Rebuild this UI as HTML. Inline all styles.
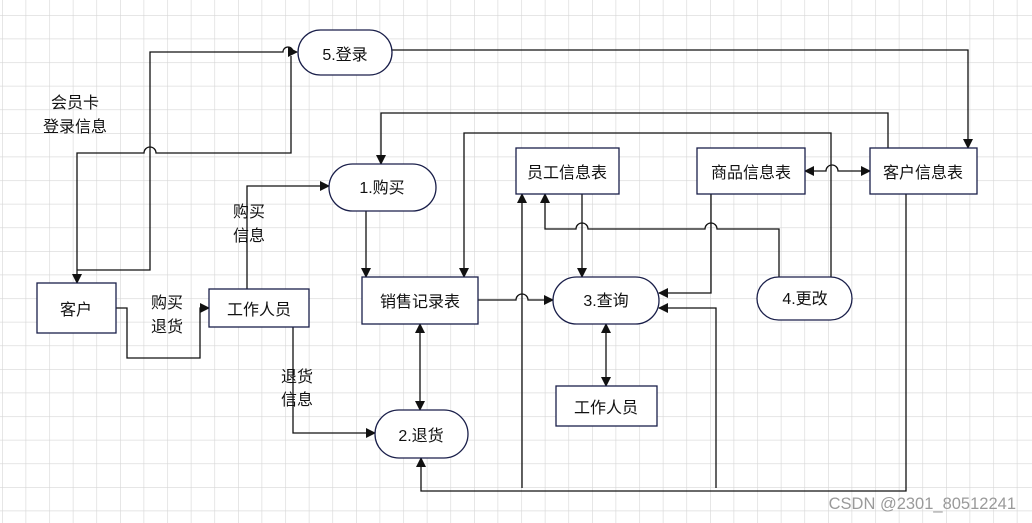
<!DOCTYPE html>
<html><head><meta charset="utf-8"><style>
html,body{margin:0;padding:0;background:#fff}
svg{display:block}
text{font-family:"Liberation Sans","Noto Sans CJK SC",sans-serif;font-size:16px;fill:#111}
</style></head><body>
<svg width="1032" height="523" viewBox="0 0 1032 523" xmlns="http://www.w3.org/2000/svg">
<defs>
<pattern id="g" x="2" y="15" width="23.6" height="23.6" patternUnits="userSpaceOnUse">
<path d="M0 0H23.6M0 0V23.6" stroke="#d6d6d6" stroke-width="1.2" fill="none"/>
</pattern>
<marker id="a" viewBox="0 0 10 10" refX="9" refY="5" markerWidth="10" markerHeight="10" orient="auto-start-reverse" markerUnits="userSpaceOnUse">
<path d="M0 0L10 5L0 10z" fill="#111"/>
</marker>
</defs>
<rect width="1032" height="523" fill="url(#g)"/>
<g fill="none" stroke="#111" stroke-width="1.3">
<path d="M291 56V153H156a6 6 0 0 0-12 0H77V283" marker-end="url(#a)"/>
<path d="M77 270H150V52H283a5 5 0 0 1 10 0H297" marker-end="url(#a)"/>
<path d="M116 308H127V358H200V308H209" marker-end="url(#a)"/>
<path d="M247 289V186H329" marker-end="url(#a)"/>
<path d="M366 211V277" marker-end="url(#a)"/>
<path d="M888 148V113H381V164" marker-end="url(#a)"/>
<path d="M831 277V133H464V277" marker-end="url(#a)"/>
<path d="M478 300H516a6 6 0 0 1 12 0H553" marker-end="url(#a)"/>
<path d="M522 488V194" marker-end="url(#a)"/>
<path d="M779 277V229H717a6 6 0 0 0-12 0H588a6 6 0 0 0-12 0H545V194" marker-end="url(#a)"/>
<path d="M582 194V277" marker-end="url(#a)"/>
<path d="M711 194V293H659" marker-end="url(#a)"/>
<path d="M716 488V308H659" marker-end="url(#a)"/>
<path d="M805 171H826a6 6 0 0 1 12 0H870" marker-start="url(#a)" marker-end="url(#a)"/>
<path d="M392 50H968V148" marker-end="url(#a)"/>
<path d="M906 194V491H421V458" marker-end="url(#a)"/>
<path d="M606 324V386" marker-start="url(#a)" marker-end="url(#a)"/>
<path d="M420 324V410" marker-start="url(#a)" marker-end="url(#a)"/>
<path d="M293 327V433H375" marker-end="url(#a)"/>
</g>
<g fill="#fff" stroke="#1a1f4a" stroke-width="1.3">
<rect x="298" y="30" width="94" height="45" rx="22.5"/>
<rect x="329" y="164" width="107" height="47" rx="23.5"/>
<rect x="553" y="277" width="106" height="47" rx="23.5"/>
<rect x="757" y="277" width="95" height="43" rx="21.5"/>
<rect x="375" y="410" width="93" height="48" rx="24"/>
<rect x="37" y="283" width="79" height="50"/>
<rect x="209" y="289" width="100" height="38"/>
<rect x="362" y="277" width="116" height="47"/>
<rect x="516" y="148" width="103" height="46"/>
<rect x="697" y="148" width="108" height="46"/>
<rect x="870" y="148" width="107" height="46"/>
<rect x="556" y="386" width="101" height="40"/>
</g>
<g text-anchor="middle">
<text x="345" y="60">5.登录</text>
<text x="382" y="193">1.购买</text>
<text x="606" y="306">3.查询</text>
<text x="805" y="304">4.更改</text>
<text x="421" y="441">2.退货</text>
<text x="76" y="315">客户</text>
<text x="259" y="315">工作人员</text>
<text x="420" y="307">销售记录表</text>
<text x="567" y="178">员工信息表</text>
<text x="751" y="178">商品信息表</text>
<text x="923" y="178">客户信息表</text>
<text x="606" y="413">工作人员</text>
<text x="75" y="108">会员卡</text>
<text x="75" y="132">登录信息</text>
<text x="167" y="308">购买</text>
<text x="167" y="332">退货</text>
<text x="249" y="217">购买</text>
<text x="249" y="241">信息</text>
<text x="297" y="382">退货</text>
<text x="297" y="405">信息</text>
</g>
<text x="1016" y="509" text-anchor="end" style="font-size:16.5px;fill:#9a9a9a">CSDN @2301_80512241</text>
</svg>
</body></html>
